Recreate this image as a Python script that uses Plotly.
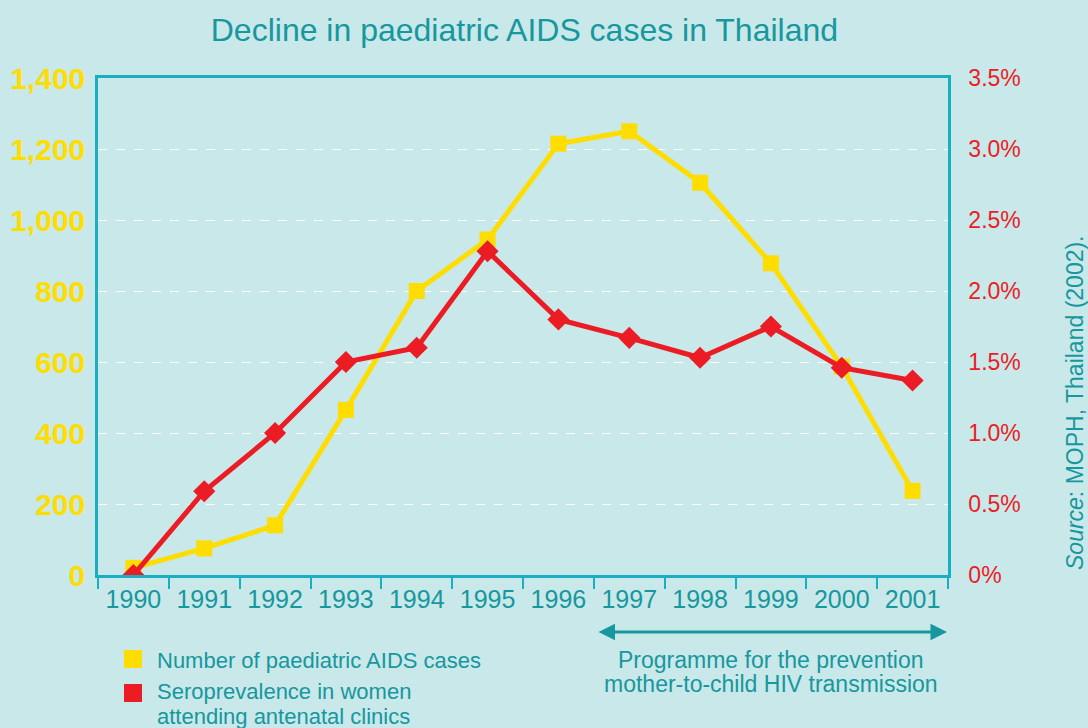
import plotly.graph_objects as go

years = ["1990", "1991", "1992", "1993", "1994", "1995", "1996", "1997", "1998", "1999", "2000", "2001"]
aids_cases = [20, 75, 140, 465, 800, 945, 1215, 1250, 1105, 878, 587, 237]
seroprevalence = [0.0, 0.59, 1.0, 1.5, 1.6, 2.28, 1.8, 1.67, 1.53, 1.75, 1.46, 1.37]
left_ticks = [0, 200, 400, 600, 800, 1000, 1200, 1400]
right_ticks = [0, 0.5, 1.0, 1.5, 2.0, 2.5, 3.0, 3.5]
right_ticktext = ["0%", "0.5%", "1.0%", "1.5%", "2.0%", "2.5%", "3.0%", "3.5%"]

BG = "#C8E8E9"
YEL = "#FFDD00"
RED = "#EC1C24"
TEAL = "#17979E"
AXIS = "#1AAFC0"
SANS = "Liberation Sans, Arial, Helvetica"

PL, PB, PW, PH = 98, 575, 850, 497  # plot area left, bottom, width, height (px)


def px(xp):
    return (xp - PL) / PW


def py(yp):
    return (PB - yp) / PH


fig = go.Figure()
fig.add_trace(go.Scatter(
    x=years, y=aids_cases, mode="lines+markers", name="Number of paediatric AIDS cases",
    line=dict(color=YEL, width=5), marker=dict(symbol="square", size=16, color=YEL),
    yaxis="y"))
fig.add_trace(go.Scatter(
    x=years, y=seroprevalence, mode="lines+markers",
    name="Seroprevalence in women attending antenatal clinics",
    line=dict(color=RED, width=5), marker=dict(symbol="diamond", size=17, color=RED),
    yaxis="y2"))

fig.update_layout(
    width=1088, height=728,
    paper_bgcolor=BG, plot_bgcolor=BG,
    margin=dict(l=98, r=140, t=78, b=153, autoexpand=False),
    showlegend=False,
    title=dict(text="Decline in paediatric AIDS cases in Thailand", x=0.482, xanchor="center",
               y=1 - 30 / 728, yanchor="middle", font=dict(family=SANS, size=32, color=TEAL)),
    xaxis=dict(type="category", range=[-0.5, 11.5], tickson="boundaries", ticks="outside",
               ticklen=11, tickwidth=2, tickangle=0, automargin=False,
               tickcolor=AXIS, showline=True, linecolor=AXIS, linewidth=2.5, mirror=True,
               showgrid=False, tickfont=dict(family=SANS, size=25, color=TEAL)),
    yaxis=dict(range=[0, 1400], tickvals=left_ticks, tickformat=",", showline=True, linecolor=AXIS,
               linewidth=2.5, showgrid=True, gridcolor="white", griddash="dash", gridwidth=1,
               zeroline=False, ticks="", ticklabelstandoff=4, automargin=False,
               tickfont=dict(family=SANS, size=30, color=YEL, weight="bold")),
    yaxis2=dict(range=[0, 3.5], overlaying="y", side="right", tickvals=right_ticks,
                ticktext=right_ticktext, showline=True, linecolor=AXIS, linewidth=2.5,
                showgrid=False, zeroline=False, ticks="", ticklabelstandoff=13, automargin=False,
                tickfont=dict(family=SANS, size=23, color=RED)),
)

# Legend (drawn manually)
fig.add_shape(type="rect", xref="paper", yref="paper", x0=px(124), x1=px(142),
              y0=py(668), y1=py(650), fillcolor=YEL, line=dict(width=0))
fig.add_shape(type="rect", xref="paper", yref="paper", x0=px(124), x1=px(142),
              y0=py(702), y1=py(684), fillcolor=RED, line=dict(width=0))
legend_lines = [("Number of paediatric AIDS cases", 660),
                ("Seroprevalence in women", 692),
                ("attending antenatal clinics", 716)]
for txt, yl in legend_lines:
    fig.add_annotation(xref="paper", yref="paper", x=px(155), y=py(yl),
                       xanchor="left", yanchor="middle", showarrow=False, text=txt,
                       font=dict(family=SANS, size=22, color=TEAL))

# Programme arrow
fig.add_annotation(xref="paper", yref="paper", x=px(947), y=py(632),
                   ax=-350, ay=0, axref="pixel", ayref="pixel",
                   text="", showarrow=True, arrowhead=2, startarrowhead=2, arrowside="end+start",
                   arrowsize=1.1, arrowwidth=3, arrowcolor=TEAL)
for txt, yl in [("Programme for the prevention", 660), ("mother-to-child HIV transmission", 684)]:
    fig.add_annotation(xref="paper", yref="paper", x=px(771), y=py(yl),
                       xanchor="center", yanchor="middle", showarrow=False, text=txt,
                       font=dict(family=SANS, size=23, color=TEAL))

# Source
fig.add_annotation(xref="paper", yref="paper", x=px(1075), y=py(403),
                   xanchor="center", yanchor="middle", showarrow=False, textangle=-90,
                   text="<i>Source</i>: MOPH, Thailand (2002).",
                   font=dict(family=SANS, size=23, color=TEAL))

fig.write_html("out.html", config={"displayModeBar": False},
               post_script="document.body.style.margin='0';document.body.style.padding='0';")
